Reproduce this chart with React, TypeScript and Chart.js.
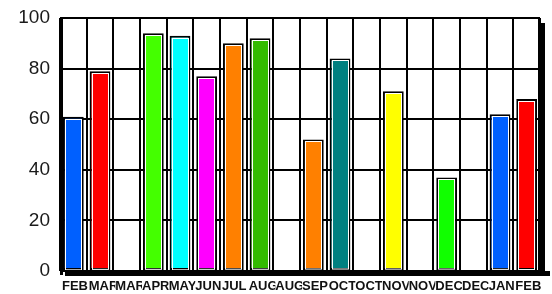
import React, { useEffect, useRef } from "react";
import { Chart, registerables } from "chart.js";

Chart.register(...registerables);

const categories = ["FEB", "MAR", "MAR", "APR", "MAY", "JUN", "JUL", "AUG", "AUG", "SEP", "OCT", "OCT", "NOV", "NOV", "DEC", "DEC", "JAN", "FEB"];
const values: (number | null)[] = [61, 79, null, 94, 93, 77, 90, 92, null, 52, 84, null, 71, null, 37, null, 62, 68];
const barColors = [
  "#0060ff", "#ff0000", "#ffffff", "#44ff00", "#00ffff", "#ff00ff", "#ff8000", "#33bb00", "#ffffff",
  "#ff8000", "#008080", "#ffffff", "#ffff00", "#ffffff", "#11ff00", "#ffffff", "#0060ff", "#ff0000",
];
const yMin = 0;
const yMax = 100;
const yStep = 20;

const decorPlugin = {
  id: "decor",
  afterDatasetsDraw(chart: any) {
    const ctx = chart.ctx;
    const meta = chart.getDatasetMeta(0);
    ctx.save();
    ctx.strokeStyle = "#ffffff";
    ctx.lineWidth = 1;
    meta.data.forEach((el: any, i: number) => {
      if (values[i] == null) return;
      const p = el.getProps(["x", "y", "base", "width"], true);
      const left = p.x - p.width / 2;
      ctx.strokeRect(Math.round(left) + 2.5, Math.round(p.y) + 2.5, Math.round(p.width) - 5, p.base - p.y - 3);
    });
    ctx.restore();
  },
  afterDraw(chart: any) {
    const ctx = chart.ctx;
    const a = chart.chartArea;
    ctx.save();
    ctx.fillStyle = "#000000";
    ctx.fillRect(a.left, a.top - 1, a.right - a.left, 2);
    ctx.fillRect(a.left, a.top - 1, 3, a.bottom - a.top + 5);
    ctx.fillRect(a.right - 2, a.top - 1, 2, a.bottom - a.top + 1);
    ctx.fillRect(a.left, a.bottom - 1, a.right - a.left, 2);
    ctx.fillRect(a.left + 5, a.bottom, a.right - a.left + 5, 5);
    ctx.fillRect(a.right, a.top + 5, 5, a.bottom - a.top);
    const xs = chart.scales.x;
    ctx.font = "bold 13px 'Liberation Sans', Arial, sans-serif";
    ctx.textAlign = "left";
    ctx.textBaseline = "alphabetic";
    const catW = (a.right - a.left) / categories.length;
    categories.forEach((lab, i) => {
      const x0 = xs.getPixelForValue(i) - catW / 2 + 2;
      const w = ctx.measureText(lab).width;
      ctx.fillStyle = "#ffffff";
      ctx.fillRect(x0, a.bottom + 7, w + 1, 17);
      ctx.fillStyle = "#111111";
      ctx.fillText(lab, x0, a.bottom + 19);
    });
    ctx.restore();
  },
};

export default function App() {
  const ref = useRef<HTMLCanvasElement>(null);
  useEffect(() => {
    if (!ref.current) return;
    const chart = new Chart(ref.current, {
      type: "bar",
      data: {
        labels: categories,
        datasets: [
          {
            data: values as any,
            backgroundColor: barColors,
            borderColor: "#000000",
            borderWidth: 2,
            borderSkipped: false,
            barPercentage: 0.78,
            categoryPercentage: 1,
          },
        ],
      },
      options: {
        animation: false,
        responsive: false,
        maintainAspectRatio: false,
        layout: { padding: { top: 18, right: 12, left: 0, bottom: 0 } },
        plugins: { legend: { display: false }, tooltip: { enabled: false }, title: { display: false } },
        scales: {
          x: {
            offset: true,
            grid: { display: true, color: "#000000", lineWidth: 2, offset: true, drawTicks: false },
            border: { display: false },
            ticks: { display: false },
            afterFit: (s: any) => {
              s.height = 23;
            },
          },
          y: {
            min: yMin,
            max: yMax,
            grid: { color: "#000000", lineWidth: 2, drawTicks: true, tickLength: 10, tickColor: "rgba(0,0,0,0)" },
            border: { display: false },
            ticks: {
              stepSize: yStep,
              padding: 0,
              color: "#1a1a1a",
              font: { family: "'Liberation Sans', Arial, sans-serif", size: 19 },
            },
            afterFit: (s: any) => {
              s.width = 60;
            },
          },
        },
      },
      plugins: [decorPlugin],
    });
    return () => chart.destroy();
  }, []);
  return (
    <div style={{ position: "fixed", left: 0, top: 0, width: 552, height: 294, background: "#fff" }}>
      <canvas ref={ref} width={552} height={294} />
    </div>
  );
}
